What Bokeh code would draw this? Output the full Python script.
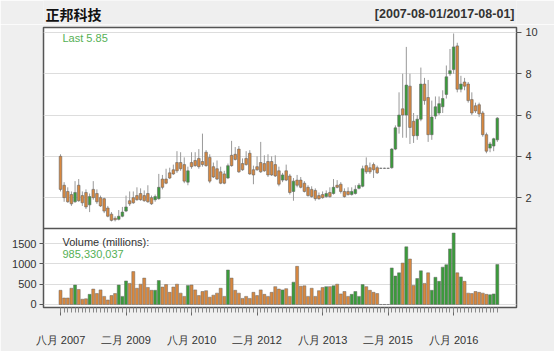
from bokeh.plotting import figure
from bokeh.layouts import column
from bokeh.models import Range1d, LinearAxis, FixedTicker, Grid, Span, Label, ColumnDataSource
from bokeh.core.properties import value
from bokeh.embed import file_html
from bokeh.resources import INLINE

# ---- data (monthly, 2007-08 .. 2017-08) ----
opens = [4.0, 2.6, 2.3, 2.15, 1.8, 2.6, 2.1, 2.25, 1.65, 2.4,
         2.2, 2.0, 1.95, 1.5, 1.2, 1.0, 0.95, 1.1, 1.35, 1.85,
         2.0, 2.1, 2.2, 2.1, 2.2, 2.0, 1.9, 1.95, 2.9, 2.9,
         3.2, 3.35, 3.7, 3.7, 3.6, 2.75, 3.7, 3.8, 3.9, 3.75,
         4.2, 3.95, 3.5, 3.4, 3.25, 3.15, 2.95, 4.05, 4.1, 4.35,
         3.65, 3.9, 4.15, 3.35, 3.5, 3.7, 3.65, 3.75, 3.75, 3.6,
         3.3, 2.85, 3.3, 3.05, 2.3, 2.85, 2.85, 2.7, 2.5, 2.4,
         2.35, 2.1, 2.15, 2.05, 2.25, 2.2, 2.6, 2.65, 2.3, 2.3,
         2.15, 2.2, 2.45, 2.55, 3.55, 3.45, 3.6, 3.45, 3.42, 3.42,
         3.42, 3.45, 4.35, 5.45, 6.3, 6.0, 7.4, 5.7, 5.0, 5.8,
         7.5, 6.85, 5.05, 5.95, 6.1, 6.4, 7.0, 8.0, 8.2, 9.35,
         7.25, 7.6, 7.5, 6.75, 6.45, 6.5, 6.1, 5.05, 4.4, 4.5,
         4.8]
highs = [4.1, 2.75, 2.5, 2.3, 2.8, 2.9, 2.3, 2.4, 2.2, 2.8,
         2.4, 2.1, 2.0, 1.6, 1.3, 1.1, 1.4, 1.55, 2.1, 2.3,
         2.3, 2.5, 2.45, 2.35, 2.6, 2.1, 2.15, 3.15, 3.1, 3.4,
         3.45, 3.6, 4.25, 4.2, 3.95, 3.5, 4.2, 4.2, 4.35, 5.1,
         4.3, 4.1, 3.7, 3.8, 3.5, 3.3, 3.65, 4.75, 4.45, 4.5,
         3.9, 4.25, 4.3, 3.55, 4.0, 4.7, 4.05, 4.1, 4.0, 4.05,
         3.5, 3.2, 3.6, 3.15, 2.95, 3.1, 3.0, 2.8, 2.6, 2.55,
         2.45, 2.25, 2.3, 2.35, 2.5, 2.9, 2.85, 2.75, 2.45, 2.5,
         2.5, 2.6, 2.7, 3.55, 3.95, 3.7, 3.7, 3.55, 3.45, 3.45,
         3.45, 4.4, 5.5, 7.1, 8.0, 9.3, 8.0, 6.1, 6.0, 8.3,
         7.8, 7.7, 6.7, 6.9, 6.9, 7.2, 8.4, 9.2, 9.95, 9.5,
         7.9, 7.8, 7.6, 7.1, 6.6, 6.6, 6.2, 5.15, 4.7, 4.9,
         5.9]
lows = [2.3, 1.8, 1.75, 1.6, 1.75, 1.8, 1.6, 1.45, 1.3, 1.9,
        1.7, 1.55, 1.25, 1.05, 0.85, 0.85, 0.9, 1.05, 1.3, 1.6,
        1.7, 1.85, 1.85, 1.8, 1.75, 1.65, 1.8, 1.9, 2.4, 2.65,
        2.9, 3.1, 3.2, 3.3, 2.7, 2.6, 3.4, 3.5, 3.4, 3.5,
        3.5, 2.7, 2.95, 2.85, 2.65, 2.65, 2.9, 3.5, 3.8, 3.2,
        3.3, 3.55, 3.1, 2.65, 3.3, 3.2, 3.25, 3.0, 3.05, 3.0,
        2.55, 2.75, 2.8, 2.15, 1.85, 2.5, 2.45, 2.25, 2.05, 2.0,
        1.85, 1.9, 1.95, 2.0, 2.0, 2.15, 2.45, 2.2, 2.0, 2.1,
        2.1, 2.15, 2.4, 2.5, 3.15, 3.15, 2.95, 3.15, 3.4, 3.4,
        3.4, 3.4, 4.3, 5.1, 4.9, 4.9, 4.6, 4.65, 4.8, 5.7,
        6.5, 4.7, 4.8, 5.8, 6.0, 6.1, 6.8, 7.9, 8.0, 7.1,
        7.1, 7.2, 6.6, 6.0, 6.1, 5.9, 4.95, 4.15, 4.2, 4.25,
        4.7]
closes = [2.4, 2.0, 1.8, 1.7, 2.25, 1.85, 1.75, 1.55, 2.05, 2.0,
          1.8, 1.6, 1.35, 1.1, 0.9, 0.93, 1.1, 1.3, 1.55, 1.7,
          1.75, 1.9, 1.9, 1.85, 1.8, 1.7, 2.05, 2.5, 2.5, 2.7,
          2.95, 3.15, 3.3, 3.4, 2.8, 3.3, 3.5, 3.55, 3.5, 3.6,
          3.55, 2.8, 3.0, 2.9, 2.7, 2.7, 3.55, 3.55, 3.85, 3.25,
          3.35, 3.6, 3.15, 3.1, 3.35, 3.25, 3.3, 3.1, 3.1, 3.05,
          2.65, 3.1, 2.85, 2.25, 2.8, 2.6, 2.5, 2.3, 2.1, 2.05,
          1.95, 1.95, 2.0, 2.2, 2.05, 2.5, 2.5, 2.3, 2.05, 2.15,
          2.3, 2.4, 2.6, 3.4, 3.25, 3.25, 3.35, 3.2, 3.42, 3.42,
          3.42, 4.35, 5.38, 6.0, 6.0, 7.45, 5.4, 5.0, 5.8, 7.5,
          6.7, 5.05, 5.9, 6.4, 6.55, 6.8, 7.85, 8.15, 9.3, 7.25,
          7.5, 7.4, 6.7, 6.1, 6.2, 6.05, 5.05, 4.25, 4.6, 4.85,
          5.85]
volumes = [350, 160, 160, 400, 480, 370, 130, 140, 250, 380,
           270, 360, 200, 110, 220, 270, 480, 200, 580, 520,
           810, 400, 500, 650, 420, 350, 350, 590, 430, 490,
           300, 430, 500, 280, 200, 470, 480, 360, 220, 320,
           340, 180, 230, 280, 400, 200, 850, 650, 350, 280,
           150, 200, 150, 300, 220, 360, 250, 200, 300, 440,
           380, 360, 390, 200, 550, 940, 450, 460, 200, 400,
           200, 340, 420, 440, 440, 460, 500, 260, 320, 200,
           250, 320, 200, 490, 440, 350, 300, 270, 0, 0,
           0, 900, 700, 780, 1020, 1420, 1120, 470, 640, 830,
           520, 780, 350, 670, 570, 920, 980, 1370, 1760, 780,
           680, 570, 280, 270, 320, 300, 280, 250, 240, 260,
           985.33]
tick_months = [0, 18, 36, 54, 72, 90, 108]
tick_labels = ["八月 2007", "二月 2009", "八月 2010", "二月 2012",
               "八月 2013", "二月 2015", "八月 2016"]
price_ticks = [2, 4, 6, 8, 10]
volume_ticks = [0, 500, 1000, 1500]
title_text = "正邦科技"
range_text = "[2007-08-01/2017-08-01]"
last_text = "Last 5.85"
vol_title = "Volume (millions):"
vol_last = "985,330,037"

UP = "#3a9c3a"
DN = "#d8883f"
EDGE = "#666666"
BG = "#efefef"

n = len(closes)
xs = list(range(n))
cols = [UP if c > o else DN for o, c in zip(opens, closes)]
src = ColumnDataSource(dict(
    x=xs, o=opens, h=highs, l=lows, c=closes,
    top=[max(o, c) for o, c in zip(opens, closes)],
    bot=[min(o, c) for o, c in zip(opens, closes)],
    v=volumes, col=cols))

# ---- header strip (frame aligned with main chart frame: 43..516) ----
head = figure(width=554, height=24, output_backend="svg", toolbar_location=None,
              x_range=Range1d(43, 516), y_range=Range1d(0, 24),
              x_axis_location=None, y_axis_location=None,
              min_border_left=43, min_border_right=38,
              min_border_top=0, min_border_bottom=0,
              background_fill_color=BG, border_fill_color=BG,
              outline_line_color=None)
head.xgrid.visible = False
head.ygrid.visible = False
head.text(x=[45], y=[11], text=[title_text], text_font=value("Noto Sans CJK SC"),
          text_font_style="bold", text_font_size="14px", text_color="#111111",
          text_baseline="middle", text_align="left")
head.text(x=[514], y=[11], text=[range_text], text_font=value("Liberation Sans"),
          text_font_style="bold", text_font_size="12.5px", text_color="#333333",
          text_baseline="middle", text_align="right")

# ---- main chart ----
p = figure(width=554, height=327, output_backend="svg", toolbar_location=None,
           x_range=Range1d(-4.67, 125.27), y_range=Range1d(-74, 6823),
           min_border_left=43, min_border_right=38, min_border_top=3,
           min_border_bottom=44,
           background_fill_color="white", border_fill_color=BG,
           outline_line_color="#555555", outline_line_width=1.5)
p.extra_y_ranges = {"price": Range1d(-3.32, 10.24)}

# volume axis (left)
yax = p.yaxis[0]
yax.ticker = FixedTicker(ticks=volume_ticks)
yax.axis_line_color = None
yax.major_tick_out = 4
yax.major_tick_in = 0
yax.minor_tick_line_color = None
yax.major_tick_line_color = "#555555"
yax.major_label_text_font = "Liberation Sans"
yax.major_label_text_font_size = "11px"
yax.major_label_text_color = "#333333"
yax.major_label_standoff = 3

# x axis (below)
xax = p.xaxis[0]
xax.ticker = FixedTicker(ticks=tick_months, minor_ticks=xs)
xax.major_label_overrides = {m: t for m, t in zip(tick_months, tick_labels)}
xax.axis_line_color = None
xax.major_tick_out = 8
xax.major_tick_in = 0
xax.minor_tick_out = 5
xax.minor_tick_in = 0
xax.major_tick_line_color = "#666666"
xax.minor_tick_line_color = "#888888"
xax.major_label_text_font = "Liberation Sans"
xax.major_label_text_font_size = "11px"
xax.major_label_text_color = "#333333"
xax.major_label_standoff = 18

# price axis (right)
pax = LinearAxis(y_range_name="price", ticker=FixedTicker(ticks=price_ticks))
pax.axis_line_color = None
pax.major_tick_out = 5
pax.major_tick_in = 0
pax.minor_tick_line_color = None
pax.major_tick_line_color = "#555555"
pax.major_label_text_font = "Liberation Sans"
pax.major_label_text_font_size = "11px"
pax.major_label_text_color = "#333333"
pax.major_label_standoff = 4
p.add_layout(pax, "right")

# grids
p.xgrid.visible = False
p.ygrid.ticker = FixedTicker(ticks=volume_ticks)
p.ygrid.grid_line_color = "#dddddd"
p.add_layout(Grid(dimension=1, ticker=FixedTicker(ticks=price_ticks),
                  y_range_name="price", grid_line_color="#dddddd"))

# separator between panels
p.add_layout(Span(location=0.51, dimension="width", y_range_name="price",
                  line_color="#555555", line_width=1.5))

# candles
p.segment(x0="x", y0="l", x1="x", y1="h", source=src, y_range_name="price",
          line_color="#999999", line_width=1)
p.vbar(x="x", bottom="bot", top="top", width=0.72, source=src,
       y_range_name="price", fill_color="col", line_color=EDGE, line_width=0.6)

# volume
p.vbar(x="x", bottom=0, top="v", width=0.82, source=src,
       fill_color="col", line_color=EDGE, line_width=0.5)

# texts inside panels
p.add_layout(Label(x=0.55, y=9.71, y_range_name="price", text=last_text,
                   text_color="#55b055", text_font="Liberation Sans",
                   text_font_size="11px", text_baseline="middle"))
p.add_layout(Label(x=0.55, y=1534, text=vol_title,
                   text_color="#333333", text_font="Liberation Sans",
                   text_font_size="11px", text_baseline="middle"))
p.add_layout(Label(x=0.55, y=1249, text=vol_last,
                   text_color="#55b055", text_font="Liberation Sans",
                   text_font_size="11px", text_baseline="middle"))

layout = column(head, p, spacing=0)
open("out.html", "w").write(file_html(layout, INLINE))
